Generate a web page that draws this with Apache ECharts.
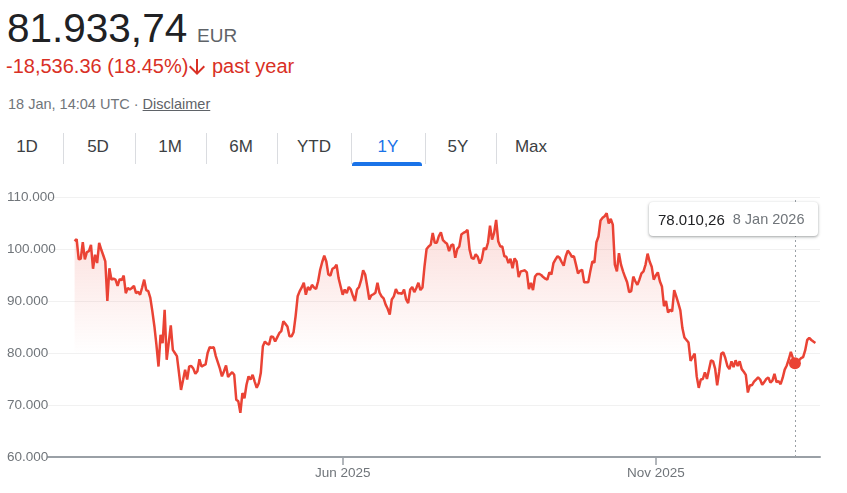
<!DOCTYPE html>
<html>
<head>
<meta charset="utf-8">
<script src="https://cdn.jsdelivr.net/npm/echarts@6/dist/echarts.min.js"></script>
<style>
  body { margin: 0; background: #fff; font-family: Arial, 'Liberation Sans', sans-serif; }
  #page { position: relative; width: 847px; height: 493px; overflow: hidden; }
  .abs { position: absolute; white-space: nowrap; line-height: 1; }
  .price { left: 7px; top: 8px; font-size: 40.5px; color: #202124; }
  .cur { left: 197px; top: 26px; font-size: 19px; color: #5f6368; }
  .chg { left: 6px; top: 56px; font-size: 20px; color: #d93025; }
  .chg svg { vertical-align: -3px; margin: 0 1px 0 1px; }
  .stamp { left: 8px; top: 97px; font-size: 14.5px; color: #70757a; }
  .stamp u { color: #5f6368; }
  .tab { top: 138px; width: 70px; text-align: center; font-size: 17px; color: #3c4043; }
  .tab.on { color: #1a73e8; }
  .sep { top: 133px; width: 1px; height: 31px; background: #dadce0; }
  .bar { left: 352px; top: 162px; width: 70px; height: 4px; background: #1a73e8; border-radius: 3px 3px 0 0; }
  #chart { position: absolute; left: 0; top: 170px; width: 847px; height: 323px; }
  .tip { left: 649px; top: 202px; width: 169px; height: 34px; background: #fff; border-radius: 4px;
         box-shadow: 0 1px 2px rgba(60,64,67,0.3), 0 1px 3px 1px rgba(60,64,67,0.15);
         display: flex; align-items: center; }
  .tip .v { margin-left: 9px; font-size: 15px; color: #202124; }
  .tip .d { margin-left: 8px; font-size: 14.5px; color: #70757a; }
</style>
</head>
<body>
<div id="page">
  <div class="abs price">81.933,74</div>
  <div class="abs cur">EUR</div>
  <div class="abs chg">-18,536.36 (18.45%)<svg width="16" height="18" viewBox="4 3 16 18"><path fill="#d93025" d="M20 12l-1.41-1.41L13 16.17V4h-2v12.17l-5.58-5.59L4 12l8 8 8-8z"/></svg> past year</div>
  <div class="abs stamp">18 Jan, 14:04 UTC · <u>Disclaimer</u></div>
  <div id="tabs"></div>
  <div class="abs bar"></div>
  <div id="chart"></div>
  <div class="abs tip"><span class="v" id="tipV"></span><span class="d" id="tipD"></span></div>
</div>
<script>
// range tabs
var tabNames = ['1D', '5D', '1M', '6M', 'YTD', '1Y', '5Y', 'Max'];
var tabCenters = [27, 98, 170, 241, 314, 388, 458, 531];
var sepX = [63, 135, 206, 277, 351, 425, 496];
var activeTab = '1Y';

// daily closes (EUR), one per day from startDate
var startDate = '2025-01-21';
var prices = [
  101500, 101900, 98000, 98100, 101300, 98000, 99400, 99600, 100800, 96200,
  98900, 97300, 101200, 99900, 98800, 97600, 90000, 96300, 94100, 94300,
  94100, 92900, 94200, 94000, 94900, 91500, 92500, 92200, 92500, 92900,
  91500, 91800, 91200, 92600, 94100, 92100, 91900, 90600, 88000, 85100,
  81500, 77400, 83500, 81900, 88300, 78700, 82000, 85300, 80600, 80000,
  79400, 76200, 72900, 74800, 76800, 74900, 77400, 77500, 77000, 76000,
  76500, 78800, 77400, 77600, 77800, 80000, 81100, 81000, 81100, 79400,
  78200, 77000, 75500, 76500, 77600, 75400, 75900, 76300, 75800, 71000,
  70700, 68500, 72300, 71300, 73900, 75500, 74900, 75800, 74500, 73300,
  74200, 76200, 81300, 82200, 81800, 81600, 83200, 83100, 82200, 83000,
  83800, 84200, 86100, 85600, 85100, 83200, 83200, 84000, 87100, 90900,
  91900, 92600, 93500, 91200, 92700, 92100, 93100, 92600, 92300, 93800,
  96000, 97500, 98700, 97600, 95100, 94900, 96200, 96400, 97000, 94400,
  92800, 91200, 92200, 91500, 92700, 92200, 91000, 90000, 92200, 92700,
  94000, 95900, 95100, 92800, 90300, 91100, 91300, 91600, 93500, 91600,
  90900, 90500, 89300, 88500, 87400, 90300, 90900, 92300, 91500, 91500,
  91400, 92200, 90300, 89600, 92200, 92700, 91700, 92500, 93500, 92100,
  92600, 96700, 100000, 100500, 100800, 103100, 101200, 101200, 102500, 103200,
  101700, 101300, 101000, 99600, 100700, 100900, 98300, 100000, 100500, 102800,
  103100, 103300, 103700, 99900, 98300, 98100, 99000, 98500, 97200, 98100,
  100200, 99900, 101200, 104500, 101800, 103100, 105600, 101500, 100500, 100500,
  98600, 98500, 97300, 98100, 96300, 98200, 97600, 94600, 95700, 95800,
  95900, 95500, 92300, 93500, 92100, 94700, 95200, 95200, 95000, 94600,
  94300, 94100, 95500, 95100, 97300, 98000, 98600, 98300, 97500, 96800,
  98600, 99700, 99200, 98500, 98600, 97000, 95300, 95800, 96000, 93600,
  93600, 93600, 95700, 97600, 97400, 101300, 102400, 105500, 106000, 106300,
  106900, 104900, 105800, 104700, 97000, 95700, 99200, 97000, 95700, 94600,
  93600, 91700, 91900, 94700, 93800, 93100, 94100, 95300, 95700, 97000,
  99100, 97600, 96600, 94100, 94900, 95500, 93800, 92800, 89000, 90000,
  87800, 88300, 88000, 92100, 90900, 89600, 88200, 84800, 83000, 82500,
  82000, 78500, 79200, 79900, 75500, 73300, 74900, 75000, 76300, 75000,
  76800, 78600, 78400, 77000, 73800, 76500, 79900, 80100, 79000, 77500,
  76900, 78400, 77300, 78600, 77500, 78400, 76900, 76400, 75800, 72400,
  73800, 73800, 74500, 74900, 75300, 74900, 73900, 74400, 75000, 75300,
  74300, 74700, 76000, 74400, 74600, 74000, 75200, 76800, 77600, 78800,
  80200, 79000, 78010.26, 78300, 78600, 79000, 79200, 80500, 82500, 82900,
  82500, 82200, 81933.74
];

var tickDates = ['2025-06-01', '2025-11-01'];
var tickLabels = ['Jun 2025', 'Nov 2025'];
var axisFrom = '2025-01-08';
var axisTo = '2026-01-20';
var focusDate = '2026-01-08';
var months = ['Jan', 'Feb', 'Mar', 'Apr', 'May', 'Jun', 'Jul', 'Aug', 'Sep', 'Oct', 'Nov', 'Dec'];

var DAY = 86400000;
function utc(s) {
    var p = s.split('-').map(Number);
    return Date.UTC(p[0], p[1] - 1, p[2]);
}
function euro(v) {
    var parts = v.toFixed(2).split('.');
    return parts[0].replace(/\B(?=(\d{3})+(?!\d))/g, '.') + ',' + parts[1];
}

// tabs
var tabsEl = document.getElementById('tabs');
tabNames.forEach(function(name, i) {
    var d = document.createElement('div');
    d.className = 'abs tab' + (name === activeTab ? ' on' : '');
    d.style.left = (tabCenters[i] - 35) + 'px';
    d.textContent = name;
    tabsEl.appendChild(d);
});
sepX.forEach(function(x) {
    var s = document.createElement('div');
    s.className = 'abs sep';
    s.style.left = x + 'px';
    tabsEl.appendChild(s);
});

var t0 = utc(startDate);
var seriesData = prices.map(function(p, i) { return [t0 + i * DAY, p]; });
var focusTs = utc(focusDate);
var focusIdx = Math.round((focusTs - t0) / DAY);
var focusVal = prices[focusIdx];

var fd = new Date(focusTs);
document.getElementById('tipV').textContent = euro(focusVal);
document.getElementById('tipD').textContent = fd.getUTCDate() + ' ' + months[fd.getUTCMonth()] + ' ' + fd.getUTCFullYear();

var tickTs = tickDates.map(utc);
var red = '#ea4335';
var font = "Arial, 'Liberation Sans', sans-serif";

var myChart = echarts.init(document.getElementById('chart'));
myChart.setOption({
    animation: false,
    grid: { left: 48, right: 27, top: 27, bottom: 36 },
    xAxis: {
        // timestamps on a plain value axis, so the two month ticks can be placed exactly
        type: 'value',
        min: utc(axisFrom),
        max: utc(axisTo) + DAY / 4,
        axisLine: { lineStyle: { color: '#9aa0a6', width: 2 } },
        axisTick: { show: true, customValues: tickTs, length: 8, lineStyle: { color: '#9aa0a6', width: 1.5 } },
        axisLabel: {
            customValues: tickTs,
            margin: 9,
            color: '#70757a',
            fontSize: 13.5,
            fontFamily: font,
            formatter: function(v) {
                var i = tickTs.indexOf(v);
                return i >= 0 ? tickLabels[i] : '';
            }
        },
        splitLine: { show: false }
    },
    yAxis: {
        type: 'value',
        min: 60000,
        max: 110000,
        interval: 10000,
        axisLine: { show: false },
        axisTick: { show: false },
        axisLabel: {
            align: 'left',
            margin: 41,
            color: '#70757a',
            fontSize: 13.5,
            fontFamily: font,
            formatter: function(v) { return (v / 1000).toFixed(0) + '.000'; }
        },
        splitLine: { lineStyle: { color: '#f1f1f1', width: 1 } }
    },
    series: [{
            type: 'line',
            data: seriesData,
            showSymbol: false,
            lineStyle: { color: red, width: 2.5 },
            areaStyle: {
                origin: 'start',
                color: new echarts.graphic.LinearGradient(0, 27, 0, 185, [
                    { offset: 0, color: 'rgba(234,67,53,0.3)' },
                    { offset: 1, color: 'rgba(234,67,53,0)' }
                ], true)
            },
            silent: true
        },
        {
            type: 'scatter',
            data: [[focusTs, focusVal]],
            symbolSize: 12,
            itemStyle: { color: red, opacity: 1 },
            z: 5,
            silent: true,
            markLine: {
                silent: true,
                symbol: ['none', 'none'],
                label: { show: false },
                lineStyle: { color: '#9aa0a6', type: [2, 3], width: 1 },
                data: [{ xAxis: focusTs }]
            }
        }
    ]
});
</script>
</body>
</html>
